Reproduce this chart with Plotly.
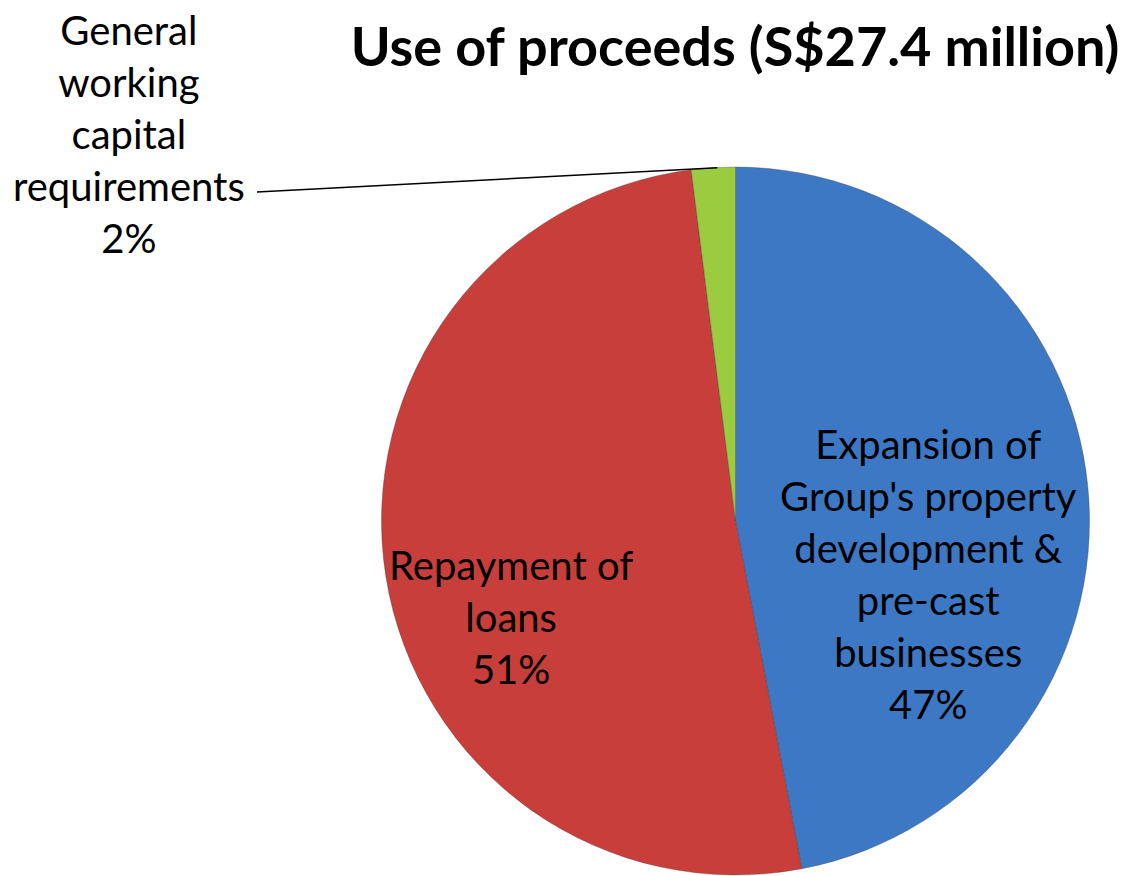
import math
import plotly.graph_objects as go

# Use of proceeds, share of total (%)
categories = [
    "Expansion of Group's property development & pre-cast businesses",
    "Repayment of loans",
    "General working capital requirements",
]
shares = [47, 51, 2]
label_lines = [
    ["Expansion of", "Group's property", "development &", "pre-cast", "businesses"],
    ["Repayment of", "loans"],
    ["General", "working", "capital", "requirements"],
]
colors = ["#3D78C4", "#C73E3A", "#9BCB3F"]
title_text = "Use of proceeds (S$27.4 million)"

W, H = 1122, 876
cx, cy, r = 735.5, 521.0, 354.0   # pie centre and radius in pixels

fig = go.Figure()
fig.add_trace(go.Pie(
    labels=categories,
    values=shares,
    sort=False,
    direction="clockwise",
    rotation=0,
    textinfo="none",
    hoverinfo="label+percent",
    marker=dict(colors=colors, line=dict(color="rgba(60,60,60,0.35)", width=1)),
    domain=dict(x=[(cx - r) / W, (cx + r) / W], y=[1 - (cy + r) / H, 1 - (cy - r) / H]),
    showlegend=False,
))

total = sum(shares)
font = dict(family="Lato, Open Sans, sans-serif", size=40, color="#000000")


def pct(v):
    return f"{round(100 * v / total)}%"


def px(x, y):
    return x / W, 1 - y / H


annotations = []
# Labels inside the two large slices
for i, (x, y) in [(0, (928, 574)), (1, (511, 617))]:
    ax, ay = px(x, y)
    annotations.append(dict(
        x=ax, y=ay, xref="paper", yref="paper", xanchor="center", yanchor="middle",
        text="<br>".join(label_lines[i] + [pct(shares[i])]),
        showarrow=False, font=font, align="center",
    ))

# Outside label for the small slice with a leader line
gx, gy = px(129, 134)
annotations.append(dict(
    x=gx, y=gy, xref="paper", yref="paper", xanchor="center", yanchor="middle",
    text="<br>".join(label_lines[2] + [pct(shares[2])]),
    showarrow=False, font=font, align="center",
))

# Leader line to the middle of the small slice's outer edge
start = sum(shares[:2]) / total * 360
mid = math.radians(start + shares[2] / total * 180)
ex, ey = cx + r * math.sin(mid), cy - r * math.cos(mid)
lx0, ly0 = px(257, 192)
lx1, ly1 = px(ex + 4, ey)
shapes = [dict(type="line", xref="paper", yref="paper",
               x0=lx0, y0=ly0, x1=lx1, y1=ly1,
               line=dict(color="#000000", width=1.5))]

fig.update_layout(
    width=W, height=H,
    margin=dict(l=0, r=0, t=0, b=0),
    paper_bgcolor="#FFFFFF",
    plot_bgcolor="#FFFFFF",
    title=dict(text="<b>" + title_text + "</b>", x=735 / W, xanchor="center",
               y=1 - 47 / H, yanchor="middle",
               font=dict(family="Lato, Open Sans, sans-serif", size=54, color="#000000")),
    annotations=annotations,
    shapes=shapes,
)

fig.write_html("out.html")
